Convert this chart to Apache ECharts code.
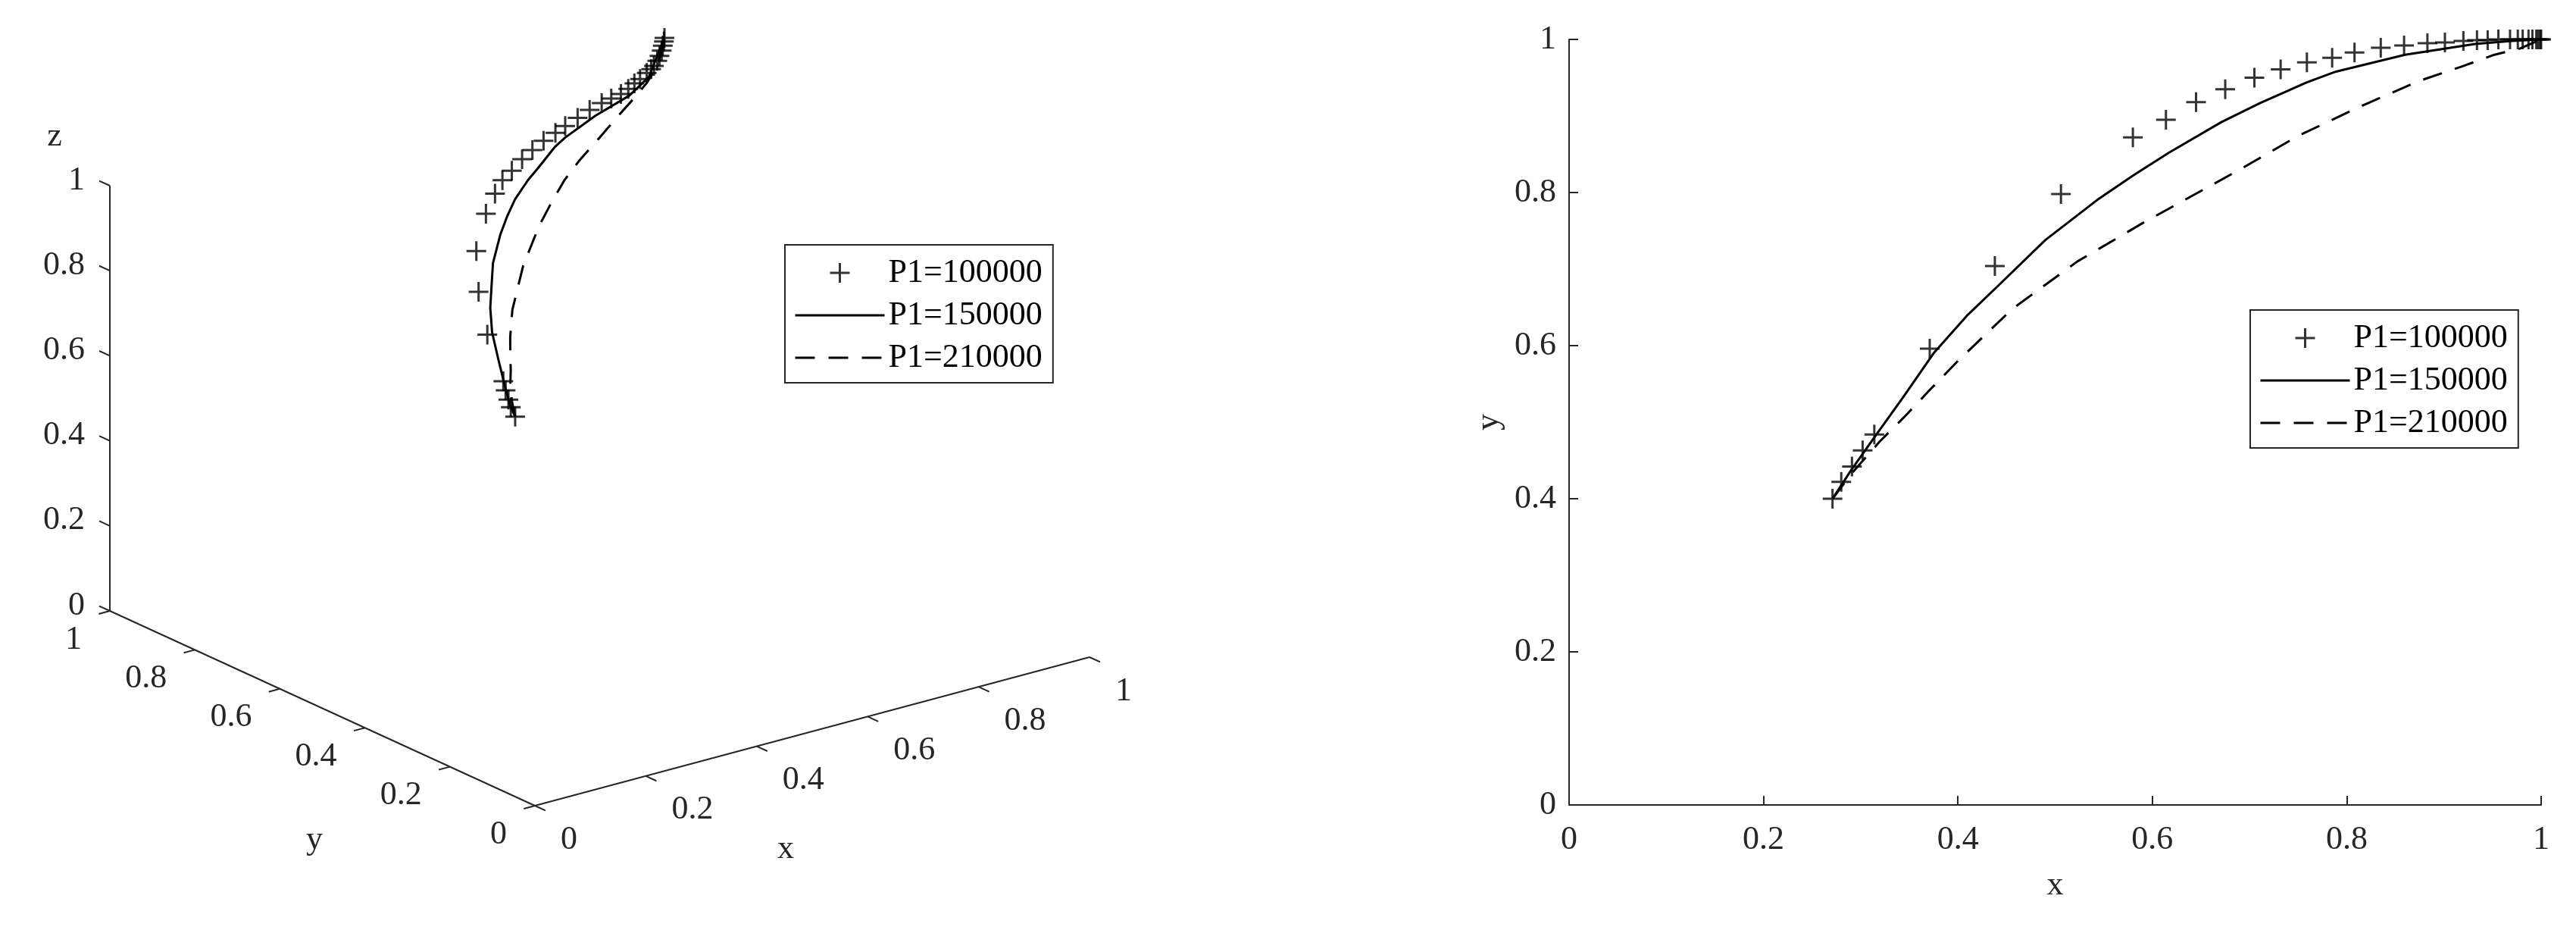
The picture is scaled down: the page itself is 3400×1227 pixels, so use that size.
<!DOCTYPE html>
<html>
<head>
<meta charset="utf-8">
<script src="https://cdn.jsdelivr.net/npm/echarts@6/dist/echarts.min.js"></script>
<style>
  html, body { margin: 0; padding: 0; background: #fff; }
  #main { width: 3400px; height: 1227px; }
</style>
</head>
<body>
<div id="main"></div>
<script>
// P1=100000 (markers)
const markX = [0.271, 0.280, 0.291, 0.302, 0.314, 0.371, 0.438, 0.506, 0.580, 0.614, 0.645, 0.675, 0.705, 0.732, 0.759, 0.785, 0.808, 0.835, 0.859, 0.883, 0.901, 0.920, 0.934, 0.945, 0.956, 0.968, 0.976, 0.981, 0.987, 0.991, 0.995, 0.997, 0.999, 1.000];
const markY = [0.400, 0.422, 0.442, 0.463, 0.484, 0.596, 0.704, 0.798, 0.872, 0.895, 0.918, 0.935, 0.950, 0.961, 0.970, 0.976, 0.983, 0.989, 0.992, 0.995, 0.996, 0.998, 0.999, 0.999, 1.000, 1.000, 1.000, 1.000, 1.000, 1.000, 1.000, 1.000, 1.000, 1.000];
const markZ = [0.637, 0.646, 0.651, 0.659, 0.667, 0.705, 0.733, 0.762, 0.790, 0.815, 0.825, 0.829, 0.839, 0.846, 0.854, 0.861, 0.866, 0.873, 0.882, 0.888, 0.892, 0.895, 0.902, 0.911, 0.917, 0.927, 0.933, 0.939, 0.949, 0.959, 0.970, 0.981, 0.990, 0.998];

// P1=150000 (solid)
const solidX = [0.271, 0.290, 0.314, 0.345, 0.375, 0.410, 0.442, 0.490, 0.543, 0.580, 0.617, 0.671, 0.711, 0.759, 0.789, 0.860, 0.932, 0.970, 1.000];
const solidY = [0.400, 0.437, 0.480, 0.535, 0.590, 0.640, 0.679, 0.738, 0.790, 0.822, 0.852, 0.892, 0.917, 0.944, 0.958, 0.980, 0.994, 0.998, 1.000];
const solidZ = [0.637, 0.640, 0.656, 0.679, 0.712, 0.735, 0.752, 0.767, 0.791, 0.807, 0.820, 0.828, 0.835, 0.851, 0.857, 0.873, 0.889, 0.917, 0.998];

// P1=210000 (dashed)
const dashX = [0.271, 0.290, 0.319, 0.345, 0.371, 0.400, 0.456, 0.523, 0.590, 0.640, 0.690, 0.750, 0.815, 0.875, 0.917, 0.952, 0.978, 1.000];
const dashY = [0.400, 0.432, 0.474, 0.507, 0.542, 0.580, 0.648, 0.710, 0.760, 0.795, 0.830, 0.874, 0.913, 0.946, 0.964, 0.980, 0.988, 1.000];
const dashZ = [0.637, 0.650, 0.660, 0.672, 0.684, 0.697, 0.710, 0.762, 0.809, 0.833, 0.851, 0.855, 0.866, 0.883, 0.901, 0.917, 0.944, 0.998];

const seriesNames = ['P1=100000', 'P1=150000', 'P1=210000'];
const tickVals = [0, 0.2, 0.4, 0.6, 0.8, 1];
const tickLabels = ['0', '0.2', '0.4', '0.6', '0.8', '1'];

const axisColor = '#262626';
const fontFamily = 'Liberation Serif, Times New Roman, Noto Serif, DejaVu Serif, FreeSerif, serif';
const fontSize = 44;
const plusPath = 'path://M0,10L20,10M10,0L10,20';
const dashPattern = [26, 18];

// 3D view: screen position of origin and of the unit vectors (pixels)
const O3 = [706, 1063];
const EX3 = [732, -196];
const EY3 = [-561, -257];
const EZ3 = [0, -561];
function proj(x, y, z) {
  return [
    O3[0] + x * EX3[0] + y * EY3[0] + z * EZ3[0],
    O3[1] + x * EX3[1] + y * EY3[1] + z * EZ3[1]
  ];
}
function zip3(xs, ys, zs) { return xs.map((x, i) => proj(x, ys[i], zs[i])); }
function zip2(xs, ys) { return xs.map((x, i) => [x, ys[i]]); }

// 3D axes, ticks and tick labels
function renderAxes3d(params, api) {
  const i = params.dataIndex;
  const t = tickVals[i];
  const p = (x, y, z) => api.coord(proj(x, y, z));
  const line = (a, b) => ({
    type: 'line',
    shape: { x1: a[0], y1: a[1], x2: b[0], y2: b[1] },
    style: { stroke: axisColor, lineWidth: 2 }
  });
  const text = (pt, dx, dy, s, align) => ({
    type: 'text',
    x: pt[0] + dx,
    y: pt[1] + dy,
    style: { text: s, align: align, verticalAlign: 'middle', fontSize: fontSize, fontFamily: fontFamily, fill: axisColor }
  });
  const children = [
    line(p(t, 0, 0), p(t, -0.025, 0)),
    line(p(0, t, 0), p(-0.02, t, 0)),
    line(p(0, 1, t), p(0, 1.025, t)),
    text(p(t, 0, 0), 34, 45, tickLabels[i], 'left'),
    text(p(0, t, 0), -37, 38, tickLabels[i], 'right'),
    text(p(0, 1, t), -33, -7, tickLabels[i], 'right')
  ];
  if (i === 0) {
    children.push(line(p(0, 0, 0), p(1, 0, 0)));
    children.push(line(p(0, 0, 0), p(0, 1, 0)));
    children.push(line(p(0, 1, 0), p(0, 1, 1)));
  }
  return { type: 'group', children: children };
}

const chart = echarts.init(document.getElementById('main'));

// line icons only, no symbol in the middle
const noSymbol = { color: 'rgba(0,0,0,0)', borderWidth: 0, opacity: 0 };
const legendBase = {
  orient: 'vertical',
  itemWidth: 118,
  itemHeight: 26,
  itemGap: 6,
  padding: [12, 14, 8, 12],
  borderColor: axisColor,
  borderWidth: 2,
  borderRadius: 0,
  backgroundColor: '#fff',
  selectedMode: false,
  textStyle: { fontSize: fontSize, fontFamily: fontFamily, color: '#000', lineHeight: 50 },
  data: [
    { name: seriesNames[0], itemStyle: { borderWidth: 3 } },
    { name: seriesNames[1], itemStyle: noSymbol, lineStyle: { width: 3, opacity: 1 } },
    { name: seriesNames[2], itemStyle: noSymbol, lineStyle: { width: 3, opacity: 1 } }
  ]
};

const valueAxis2d = {
  type: 'value',
  min: 0,
  max: 1,
  interval: 0.2,
  gridIndex: 1,
  nameLocation: 'middle',
  nameTextStyle: { fontSize: fontSize, fontFamily: fontFamily, color: axisColor },
  axisLine: { show: true, lineStyle: { color: axisColor, width: 2 } },
  axisTick: { show: true, inside: true, length: 12, lineStyle: { color: axisColor, width: 2 } },
  splitLine: { show: false },
  axisLabel: { fontSize: fontSize, fontFamily: fontFamily, color: axisColor }
};

const option = {
  animation: false,
  backgroundColor: '#fff',
  textStyle: { fontFamily: fontFamily },
  grid: [
    { left: 0, top: 0, width: 1700, height: 1227, outerBoundsMode: 'none' },
    { left: 2071, top: 52, width: 1283, height: 1010, outerBoundsMode: 'none' }
  ],
  xAxis: [
    { type: 'value', gridIndex: 0, min: 0, max: 1700, show: false },
    Object.assign({}, valueAxis2d, { name: 'x', nameGap: 84, axisLabel: Object.assign({}, valueAxis2d.axisLabel, { margin: 24 }) })
  ],
  yAxis: [
    { type: 'value', gridIndex: 0, min: 0, max: 1227, inverse: true, show: false },
    Object.assign({}, valueAxis2d, { name: 'y', nameGap: 84, axisLabel: Object.assign({}, valueAxis2d.axisLabel, { margin: 17 }) })
  ],
  legend: [
    Object.assign({}, legendBase, { left: 1036, top: 323 }),
    Object.assign({}, legendBase, { left: 2970, top: 409 })
  ],
  graphic: [
    { type: 'text', x: 1037, y: 1120, style: { text: 'x', align: 'center', verticalAlign: 'middle', fontSize: fontSize, fontFamily: fontFamily, fill: axisColor } },
    { type: 'text', x: 415, y: 1108, style: { text: 'y', align: 'center', verticalAlign: 'middle', fontSize: fontSize, fontFamily: fontFamily, fill: axisColor } },
    { type: 'text', x: 72, y: 180, style: { text: 'z', align: 'center', verticalAlign: 'middle', fontSize: fontSize, fontFamily: fontFamily, fill: axisColor } }
  ],
  series: [
    {
      type: 'custom',
      xAxisIndex: 0,
      yAxisIndex: 0,
      silent: true,
      renderItem: renderAxes3d,
      data: tickVals.map(t => [t, t])
    },
    {
      name: seriesNames[0],
      type: 'scatter',
      xAxisIndex: 0,
      yAxisIndex: 0,
      clip: false,
      symbol: plusPath,
      symbolSize: 26,
      itemStyle: { color: '#000', borderColor: '#000', borderWidth: 3 },
      data: zip3(markX, markY, markZ)
    },
    {
      name: seriesNames[1],
      type: 'line',
      xAxisIndex: 0,
      yAxisIndex: 0,
      clip: false,
      symbol: 'none',
      itemStyle: { color: '#000' },
      lineStyle: { color: '#000', width: 3 },
      data: zip3(solidX, solidY, solidZ)
    },
    {
      name: seriesNames[2],
      type: 'line',
      xAxisIndex: 0,
      yAxisIndex: 0,
      clip: false,
      symbol: 'none',
      itemStyle: { color: '#000' },
      lineStyle: { color: '#000', width: 3, type: dashPattern },
      data: zip3(dashX, dashY, dashZ)
    },
    {
      name: seriesNames[0],
      type: 'scatter',
      xAxisIndex: 1,
      yAxisIndex: 1,
      clip: false,
      symbol: plusPath,
      symbolSize: 26,
      itemStyle: { color: '#000', borderColor: '#000', borderWidth: 3 },
      data: zip2(markX, markY)
    },
    {
      name: seriesNames[1],
      type: 'line',
      xAxisIndex: 1,
      yAxisIndex: 1,
      clip: false,
      symbol: 'none',
      itemStyle: { color: '#000' },
      lineStyle: { color: '#000', width: 3 },
      data: zip2(solidX, solidY)
    },
    {
      name: seriesNames[2],
      type: 'line',
      xAxisIndex: 1,
      yAxisIndex: 1,
      clip: false,
      symbol: 'none',
      itemStyle: { color: '#000' },
      lineStyle: { color: '#000', width: 3, type: dashPattern },
      data: zip2(dashX, dashY)
    }
  ]
};

chart.setOption(option);
</script>
</body>
</html>
